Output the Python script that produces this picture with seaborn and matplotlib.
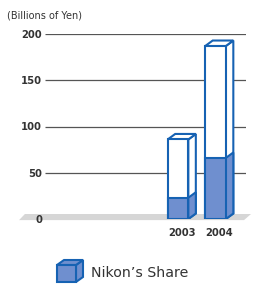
import matplotlib
matplotlib.use("Agg")
import matplotlib.pyplot as plt
from matplotlib.patches import Polygon
from matplotlib.transforms import ScaledTranslation
import pandas as pd
import seaborn as sns

years = ["2003", "2004"]
total_sales = [86, 187]
nikon_share = [23, 66]
y_ticks = [0, 50, 100, 150, 200]

EDGE = "#1662b3"
FILL = "#6f8fcf"
TEXT = "#333333"
W, H = 275, 285


def fx(px):
    return px / W


def fy(py):
    return 1 - py / H


sns.set_style("white")
plt.rcParams["font.family"] = ["DejaVu Sans"]

fig = plt.figure(figsize=(W / 100, H / 100), dpi=100)
ax = fig.add_axes([fx(45), fy(219), 201 / W, 185 / H])

df = pd.DataFrame({"year": years, "total": total_sales, "share": nikon_share})
sns.barplot(data=df, x="year", y="total", color="white", saturation=1,
            edgecolor=EDGE, linewidth=1.5, width=0.55, ax=ax, zorder=3)
sns.barplot(data=df, x="year", y="share", color=FILL, saturation=1,
            edgecolor=EDGE, linewidth=1.5, width=0.55, ax=ax, zorder=4)

ax.set_xlim(-3.547, 1.813)
ax.set_ylim(0, 200)
sns.despine(ax=ax, left=True, bottom=True)
ax.set_xlabel("")
ax.set_ylabel("")

# grid lines
ax.hlines([t for t in y_ticks if t > 0], -3.547, 1.813, color="#555555", lw=0.9, zorder=1)

ax.set_yticks(y_ticks)
ax.set_yticklabels([str(t) for t in y_ticks], fontsize=7.2, fontweight="bold", color=TEXT)
ax.tick_params(axis="both", length=0)
ax.tick_params(axis="y", pad=2.2)
ax.tick_params(axis="x", pad=6.5)
for lab in ax.get_xticklabels():
    lab.set_fontsize(7.2)
    lab.set_fontweight("bold")
    lab.set_color(TEXT)
    lab.set_transform(lab.get_transform() + ScaledTranslation(0.035, 0, fig.dpi_scale_trans))

# floor
floor = Polygon([(-0.129, -0.006), (-0.1, 0.027), (1.025, 0.027), (0.99, -0.006)],
                closed=True, transform=ax.transAxes, facecolor="#d6d6d6",
                edgecolor="none", clip_on=False, zorder=0.5)
ax.add_patch(floor)

# 3D depth of the bars
p0 = ax.transData.transform((0, 0))
p1 = ax.transData.transform((1, 100))
dx = 7.5 / (p1[0] - p0[0])
dy = 5.5 / ((p1[1] - p0[1]) / 100)

n = len(years)
for i, bar in enumerate(ax.patches[:2 * n]):
    x0 = bar.get_x()
    x1 = x0 + bar.get_width()
    h = bar.get_height()
    is_share = i >= n
    fc = FILL if is_share else "white"
    z = 4 if is_share else 3
    side = Polygon([(x1, 0), (x1 + dx, dy), (x1 + dx, h + dy), (x1, h)], closed=True,
                   facecolor=fc, edgecolor=EDGE, lw=1.5, joinstyle="miter", zorder=z)
    ax.add_patch(side)
    if not is_share:
        top = Polygon([(x0, h), (x0 + dx, h + dy), (x1 + dx, h + dy), (x1, h)], closed=True,
                      facecolor="white", edgecolor=EDGE, lw=1.5, joinstyle="miter", zorder=z)
        ax.add_patch(top)
    bar.set_zorder(z + 0.1)

# unit label
fig.text(fx(7), fy(16), "(Billions of Yen)", fontsize=7, color=TEXT, va="center", ha="left")

# legend: small 3D box + text
lx0, lx1, ly0, ly1, ddx, ddy = 57, 76, 265, 282, 7, 5
front = [(fx(lx0), fy(ly1)), (fx(lx1), fy(ly1)), (fx(lx1), fy(ly0)), (fx(lx0), fy(ly0))]
lside = [(fx(lx1), fy(ly1)), (fx(lx1 + ddx), fy(ly1 - ddy)), (fx(lx1 + ddx), fy(ly0 - ddy)), (fx(lx1), fy(ly0))]
ltop = [(fx(lx0), fy(ly0)), (fx(lx0 + ddx), fy(ly0 - ddy)), (fx(lx1 + ddx), fy(ly0 - ddy)), (fx(lx1), fy(ly0))]
for verts in (lside, ltop, front):
    fig.patches.append(Polygon(verts, closed=True, transform=fig.transFigure, facecolor=FILL,
                               edgecolor=EDGE, lw=1.5, joinstyle="miter"))
fig.text(fx(91), fy(273), "Nikon\u2019s Share", fontsize=10.2, color=TEXT, va="center", ha="left")

fig.savefig("out.png", dpi=100)
